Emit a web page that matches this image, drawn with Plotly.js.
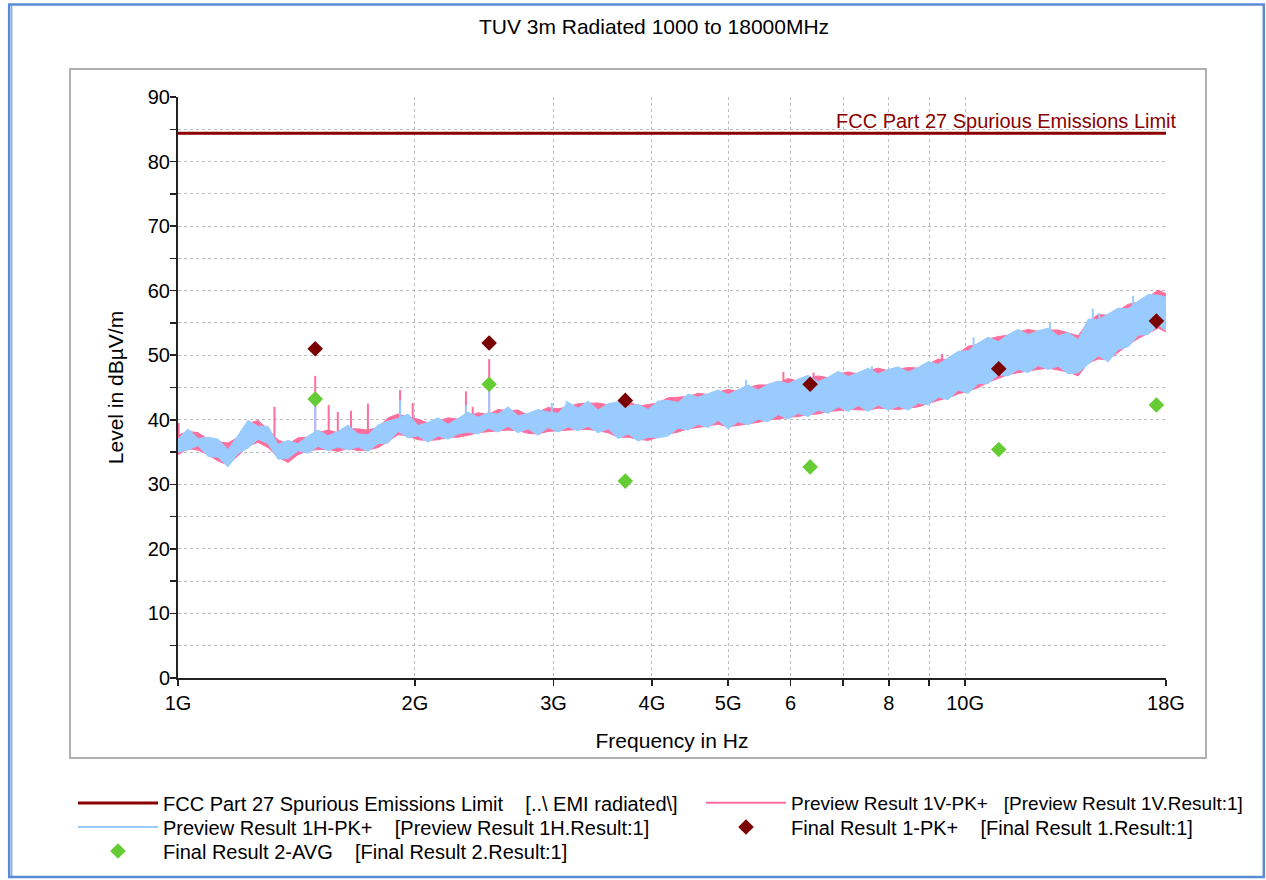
<!DOCTYPE html>
<html><head><meta charset="utf-8">
<script src="https://cdn.plot.ly/plotly-3.0.1.min.js"></script>
<style>html,body{margin:0;padding:0;background:#fff}#chart{width:1266px;height:880px}</style>
</head><body><div id="chart"></div>
<script>
// ---- data (frequencies in MHz, levels in dBµV/m) ----
const limitMHz = [1000, 18000];
const limitDb = [84.4, 84.4];

const bandMHz = [1000,1029.7,1060.3,1091.8,1124.2,1157.6,1191.9,1227.3,1263.8,1301.3,1340.0,1379.7,1420.7,1462.9,1506.3,1551.1,1597.1,1644.5,1693.4,1743.7,1795.4,1848.8,1903.7,1960.2,2018.4,2078.3,2140.0,2203.6,2269.0,2336.4,2405.8,2477.2,2550.8,2626.5,2704.5,2784.8,2867.5,2952.6,3040.3,3130.6,3223.6,3319.3,3417.8,3519.3,3623.8,3731.4,3842.2,3956.3,4073.8,4194.8,4319.3,4447.6,4579.7,4715.6,4855.7,4999.9,5148.3,5301.2,5458.6,5620.7,5787.6,5959.5,6136.4,6318.6,6506.3,6699.5,6898.4,7103.2,7314.1,7531.3,7755.0,7985.2,8222.3,8466.5,8717.9,8976.8,9243.3,9517.8,9800.4,10091,10391,10700,11017,11344,11681,12028,12385,12753,13132,13522,13923,14337,14762,15201,15652,16117,16595,17088,17596,18000];

const blueHi = [37.0,38.6,37.1,37.3,37.0,35.4,37.6,39.9,39.0,39.0,36.2,36.8,36.3,37.5,38.4,37.5,38.2,39.2,37.8,37.7,39.2,39.8,40.2,40.9,39.1,39.6,40.3,39.3,40.2,41.2,40.4,41.1,40.9,42.0,40.6,41.0,41.6,41.2,41.0,42.7,41.8,42.9,41.5,42.5,42.8,42.1,42.4,41.6,42.9,43.0,42.7,44.0,43.5,44.1,44.6,43.9,44.6,45.4,44.6,45.5,46.0,45.6,46.3,46.9,45.9,46.6,47.5,46.7,47.3,48.0,47.1,47.8,48.2,47.4,48.1,49.0,48.6,49.6,50.6,50.7,51.9,52.8,52.1,53.2,54.0,53.2,53.8,54.2,53.0,53.5,52.4,55.6,55.5,56.4,57.3,57.2,58.4,59.4,59.3,59.0];
const blueLo = [35.0,35.3,36.0,34.3,34.2,32.7,34.8,35.6,37.0,36.3,33.9,34.0,35.2,34.8,35.9,35.2,35.8,35.3,35.8,35.1,36.3,36.4,38.2,37.2,37.5,36.5,37.5,37.0,37.8,38.1,37.8,38.7,38.1,39.0,38.0,38.6,37.6,38.8,38.1,38.9,38.3,39.0,38.0,38.6,37.1,37.8,36.7,37.3,37.2,37.5,38.7,38.4,39.3,38.8,39.9,38.6,39.7,39.2,40.1,39.7,40.8,40.1,41.0,40.5,41.5,41.0,42.0,41.3,42.2,41.3,42.3,41.5,42.1,41.5,42.6,42.3,43.5,43.1,44.6,44.1,45.6,45.6,47.0,46.8,47.8,47.3,48.4,47.8,48.3,47.1,47.3,48.6,49.9,49.0,50.9,51.3,53.1,53.2,54.7,53.8];
const pinkHi = [37.6,38.2,38.0,37.0,36.6,36.4,37.3,39.4,39.9,38.5,36.9,36.2,37.2,37.3,38.0,38.4,38.0,38.6,38.6,38.4,38.8,40.3,40.9,40.4,40.1,39.5,39.8,40.3,40.1,40.5,41.1,40.8,41.6,41.4,41.5,40.7,41.2,41.9,41.7,42.0,42.5,42.6,42.6,42.3,42.6,42.9,42.1,42.3,42.6,43.4,43.5,43.6,44.1,43.9,44.3,44.7,44.4,45.0,45.4,45.4,45.7,46.4,46.0,46.4,46.8,46.5,47.1,47.4,47.1,47.6,48.0,47.6,47.9,48.1,48.0,48.6,49.4,49.3,50.3,51.4,51.7,52.5,52.9,53.1,53.6,54.0,53.7,53.9,53.9,53.4,53.0,55.2,56.3,56.2,56.9,57.9,58.2,59.0,60.1,59.5];
const pinkLo = [34.6,35.5,35.3,34.6,33.6,33.0,34.4,35.9,36.5,35.7,34.2,33.4,34.6,35.2,35.4,35.4,35.1,35.6,35.2,35.3,35.7,36.6,37.7,37.5,36.9,36.8,36.9,37.3,37.3,37.6,38.0,38.2,38.3,38.4,38.3,37.9,37.8,38.2,38.3,38.4,38.5,38.5,38.3,38.0,37.3,37.3,37.0,36.8,37.3,37.8,38.1,38.6,38.8,39.0,39.3,38.9,39.1,39.4,39.6,40.0,40.1,40.4,40.5,40.8,40.9,41.3,41.4,41.6,41.6,41.5,41.8,41.7,41.6,41.8,42.0,42.5,43.0,43.4,44.0,44.4,45.0,45.8,46.4,47.0,47.3,47.6,47.8,48.0,47.7,47.4,46.8,48.8,49.4,49.3,50.4,51.6,52.6,53.4,54.2,53.6];

// narrow emission spikes (vertical pol. / horizontal pol.)
const pinkSpikeMHz  = [1002, 1326, 1494, 1554, 1596, 1659, 1743, 1915, 1987, 2322, 2368, 2485, 5877, 6420, 9350];
const pinkSpikeBase = [35.0, 37.5, 37.5, 37.5, 37.5, 37.5, 37.5, 39.0, 39.0, 39.5, 39.5, 40.0, 43.0, 43.5, 46.0];
const pinkSpikeTop  = [39.5, 42.0, 46.8, 42.3, 41.2, 41.4, 42.5, 44.6, 42.6, 44.4, 42.0, 49.4, 47.4, 47.3, 50.2];
const blueSpikeMHz  = [1494, 1915, 2322, 2485, 2985, 3118, 5269, 7613, 8640, 10250, 12820, 14530, 14810, 16350];
const blueSpikeBase = [37.5, 39.0, 39.5, 40.0, 40.0, 40.0, 41.0, 43.0, 43.0, 48.0, 50.0, 50.0, 50.0, 54.0];
const blueSpikeTop  = [43.2, 43.0, 42.3, 45.5, 42.6, 42.9, 46.2, 48.3, 47.9, 52.8, 55.0, 57.2, 56.5, 59.2];

const finalMHz = [1494, 2485, 3701, 6356, 11035, 17502];
const final1Pk = [51.0, 51.9, 43.0, 45.5, 47.9, 55.3];
const final2Avg = [43.2, 45.5, 30.5, 32.7, 35.4, 42.3];

const xTickMHz = [1000, 2000, 3000, 4000, 5000, 6000, 7000, 8000, 9000, 10000, 18000];
const xTickText = ['1G', '2G', '3G', '4G', '5G', '6', '', '8', '', '10G', '18G'];
const yTickVals = [0,5,10,15,20,25,30,35,40,45,50,55,60,65,70,75,80,85,90];
const yTickText = ['0','','10','','20','','30','','40','','50','','60','','70','','80','','90'];

const SP = '\u00a0\u00a0\u00a0\u00a0';
const SP3 = '\u00a0\u00a0\u00a0';
const names = {
  limit: 'FCC Part 27 Spurious Emissions Limit' + SP + '[..\\ EMI radiated\\]',
  v: 'Preview Result 1V-PK+' + SP3 + '[Preview Result 1V.Result:1]',
  h: 'Preview Result 1H-PK+' + SP + '[Preview Result 1H.Result:1]',
  f1: 'Final Result 1-PK+' + SP + '[Final Result 1.Result:1]',
  f2: 'Final Result 2-AVG' + SP + '[Final Result 2.Result:1]'
};

// ---- helpers ----
const hz = a => a.map(v => v * 1e6);
function polygon(fr, hi, lo) {
  return { x: hz(fr.concat(fr.slice().reverse())), y: hi.concat(lo.slice().reverse()) };
}
function segments(fr, base, top) {
  const x = [], y = [];
  fr.forEach((f, i) => { x.push(f * 1e6, f * 1e6, null); y.push(base[i], top[i], null); });
  return { x, y };
}

const PINK = '#ff6e9c', BLUE = '#99cbff', DRED = '#8b0000', MRED = '#7a0000', GREEN = '#66cc33';
const FONT = 'Liberation Sans, Arial, sans-serif';

const pinkPoly = polygon(bandMHz, pinkHi, pinkLo);
const bluePoly = polygon(bandMHz, blueHi, blueLo);
const pinkSeg = segments(pinkSpikeMHz, pinkSpikeBase, pinkSpikeTop);
const blueSeg = segments(blueSpikeMHz, blueSpikeBase, blueSpikeTop);

const traces = [
  { x: pinkPoly.x, y: pinkPoly.y, mode: 'lines', fill: 'toself', fillcolor: PINK, line: { color: PINK, width: 1 }, showlegend: false, hoverinfo: 'skip' },
  { x: pinkSeg.x, y: pinkSeg.y, mode: 'lines', line: { color: PINK, width: 2 }, showlegend: false, hoverinfo: 'skip' },
  { x: bluePoly.x, y: bluePoly.y, mode: 'lines', fill: 'toself', fillcolor: BLUE, line: { color: BLUE, width: 1 }, showlegend: false, hoverinfo: 'skip' },
  { x: blueSeg.x, y: blueSeg.y, mode: 'lines', line: { color: BLUE, width: 2 }, showlegend: false, hoverinfo: 'skip' },
  { x: hz(limitMHz), y: limitDb, mode: 'lines', line: { color: DRED, width: 3 }, name: names.limit, legend: 'legend' },
  { x: [1e9], y: [null], mode: 'lines', line: { color: PINK, width: 2 }, name: names.v, legend: 'legend2' },
  { x: [1e9], y: [null], mode: 'lines', line: { color: BLUE, width: 2 }, name: names.h, legend: 'legend3' },
  { x: hz(finalMHz), y: final1Pk, mode: 'markers', marker: { symbol: 'diamond', size: 12, color: MRED }, name: names.f1, legend: 'legend4' },
  { x: hz(finalMHz), y: final2Avg, mode: 'markers', marker: { symbol: 'diamond', size: 12, color: GREEN }, name: names.f2, legend: 'legend5' }
];

// pixel -> paper helpers (layout geometry only)
const L = 178, R = 1166, T = 97, B = 678;
const px = v => (v - L) / (R - L);
const py = v => (B - v) / (B - T);

function legendAt(xp, yp, fs) {
  return { x: px(xp), y: py(yp), xanchor: 'left', yanchor: 'middle', itemwidth: 80,
           bgcolor: 'rgba(0,0,0,0)', borderwidth: 0, font: { family: FONT, size: fs || 20, color: '#000' } };
}

const axisCommon = { showline: true, linecolor: '#222', linewidth: 2, ticks: 'outside', ticklen: 6, tickwidth: 1.5, tickcolor: '#222',
  showgrid: true, gridcolor: '#bdbdbd', griddash: 'dot', gridwidth: 1, zeroline: false,
  tickfont: { family: FONT, size: 20, color: '#000' } };

const layout = {
  width: 1266, height: 880,
  margin: { l: L, r: 1266 - R, t: T, b: 880 - B, autoexpand: false },
  paper_bgcolor: '#fff', plot_bgcolor: '#fff',
  font: { family: FONT, size: 20, color: '#000' },
  title: { text: 'TUV 3m Radiated 1000 to 18000MHz', font: { family: FONT, size: 21, color: '#000' },
           xref: 'container', x: 654 / 1266, xanchor: 'center', yref: 'container', y: 1 - 27 / 880, yanchor: 'middle' },
  xaxis: Object.assign({}, axisCommon, { type: 'log', range: [9, Math.log10(18e9)], tickmode: 'array',
           tickvals: hz(xTickMHz), ticktext: xTickText,
           title: { text: 'Frequency in Hz', font: { family: FONT, size: 21 }, standoff: 20 } }),
  yaxis: Object.assign({}, axisCommon, { range: [0, 90], tickmode: 'array', tickvals: yTickVals, ticktext: yTickText,
           ticklabelstandoff: -4,
           title: { text: 'Level in dBµV/m', font: { family: FONT, size: 21 }, standoff: 18 } }),
  xaxis2: { overlaying: 'x', anchor: 'y', side: 'bottom', type: 'log', range: [9, Math.log10(18e9)], tickmode: 'array',
            tickvals: hz(xTickMHz), ticks: 'inside', ticklen: 6, tickwidth: 1.5, tickcolor: '#222',
            showticklabels: false, showgrid: false, showline: false, zeroline: false },
  yaxis2: { overlaying: 'y', anchor: 'x', side: 'left', range: [0, 90], tickmode: 'array', tickvals: yTickVals,
            ticks: 'inside', ticklen: 6, tickwidth: 1.5, tickcolor: '#222',
            showticklabels: false, showgrid: false, showline: false, zeroline: false },
  legend: legendAt(73, 803),
  legend2: legendAt(701, 803, 19),
  legend3: legendAt(73, 827),
  legend4: legendAt(701, 827),
  legend5: legendAt(73, 851),
  annotations: [{ xref: 'paper', x: 1, xshift: 12, xanchor: 'right', yref: 'y', y: limitDb[0], yanchor: 'bottom',
                  text: 'FCC Part 27 Spurious Emissions Limit', showarrow: false, borderpad: 0,
                  font: { family: FONT, size: 20, color: DRED } }],
  shapes: [
    { type: 'rect', xref: 'paper', yref: 'paper', x0: px(70), x1: px(1206), y0: py(69), y1: py(758),
      line: { color: '#b0b0b0', width: 2 }, layer: 'below' },
    { type: 'rect', xref: 'paper', yref: 'paper', x0: px(9.2), x1: px(1263.8), y0: py(4.5), y1: py(877),
      line: { color: '#5a8bd4', width: 2.5 } },
    { type: 'line', xref: 'paper', yref: 'paper', x0: px(11.8), x1: px(11.8), y0: py(6), y1: py(876),
      line: { color: '#5a8bd4', width: 1 } }
  ],
  hovermode: false
};

Plotly.newPlot('chart', traces, layout, { staticPlot: true, displayModeBar: false });
</script>
</body></html>
